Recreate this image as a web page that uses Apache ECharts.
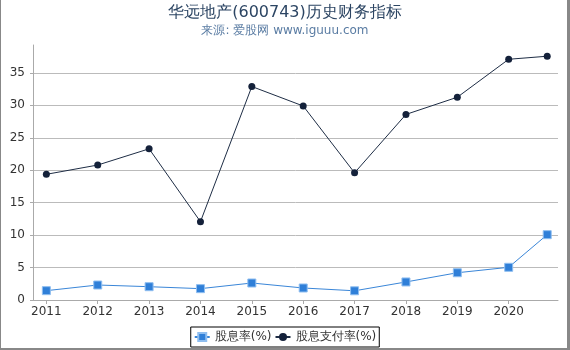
<!DOCTYPE html>
<html>
<head>
<meta charset="utf-8">
<script src="https://cdn.jsdelivr.net/npm/echarts@6/dist/echarts.min.js"></script>
<style>
  html, body { margin: 0; padding: 0; background: #fff; }
  #wrap { position: relative; width: 570px; height: 350px; }
  #main { width: 570px; height: 350px; }
  #frame { position: absolute; left: 0; top: 0; width: 570px; height: 350px; box-sizing: border-box;
           border-left: 1px solid #888; border-right: 3px solid #888; border-bottom: 2px solid #888; pointer-events: none; }
</style>
</head>
<body>
<div id="wrap"><div id="main"></div><div id="frame"></div></div>
<script>
// x positions (years); last point is the latest partial-year figure
var years = [2011, 2012, 2013, 2014, 2015, 2016, 2017, 2018, 2019, 2020, 2020.75];
var yearLabels = [2011, 2012, 2013, 2014, 2015, 2016, 2017, 2018, 2019, 2020];
var yTicks = [0, 5, 10, 15, 20, 25, 30, 35];

var dividendYield = [1.44, 2.31, 2.05, 1.75, 2.62, 1.85, 1.42, 2.78, 4.2, 5.04, 10.07];
var payoutRatio = [19.37, 20.8, 23.3, 12.07, 32.9, 29.9, 19.6, 28.6, 31.25, 37.1, 37.57];

function pairs(xs, ys) {
  return xs.map(function (x, i) { return [x, ys[i]]; });
}

var chart = echarts.init(document.getElementById('main'));
var font = 'DejaVu Sans';

var option = {
  backgroundColor: '#fff',
  textStyle: { fontFamily: font },
  title: {
    text: '华远地产(600743)历史财务指标',
    subtext: '来源: 爱股网 www.iguuu.com',
    left: 'center',
    top: 0,
    itemGap: 4,
    textStyle: { fontFamily: font, fontSize: 16, fontWeight: 'normal', color: '#2c4563' },
    subtextStyle: { fontFamily: font, fontSize: 12, color: '#5a7ca3' }
  },
  legend: {
    left: 'center',
    top: 327,
    padding: [4, 3],
    borderColor: '#000',
    borderWidth: 1,
    borderRadius: 0,
    itemGap: 3,
    itemWidth: 15,
    itemHeight: 10,
    textStyle: { fontFamily: font, fontSize: 12, color: '#333' },
    data: ['股息率(%)', '股息支付率(%)']
  },
  grid: { left: 33, right: 12, top: 45, bottom: 50, containLabel: false },
  xAxis: {
    type: 'value',
    min: 2010.74,
    max: 2020.96,
    splitLine: { show: false },
    axisLine: { lineStyle: { color: '#aaa' } },
    axisTick: { show: true, length: 4, customValues: yearLabels, lineStyle: { color: '#aaa' } },
    axisLabel: {
      customValues: yearLabels,
      formatter: function (v) { return String(v); },
      color: '#333', fontSize: 12, margin: 6, fontFamily: font
    }
  },
  yAxis: {
    type: 'value',
    min: 0,
    max: 39.3,
    axisLine: { show: true, lineStyle: { color: '#aaa' } },
    axisTick: { show: true, length: 3, customValues: yTicks, lineStyle: { color: '#aaa' } },
    axisLabel: { customValues: yTicks, color: '#333', fontSize: 12, margin: 8, fontFamily: font },
    splitLine: { show: true, lineStyle: { color: '#bbb' } }
  },
  series: [
    {
      name: '股息率(%)',
      type: 'line',
      data: pairs(years, dividendYield),
      symbol: 'rect',
      symbolSize: 8,
      lineStyle: { color: '#3a86d8', width: 1 },
      itemStyle: { color: '#2f7fd8', borderColor: '#8fbef0', borderWidth: 1 }
    },
    {
      name: '股息支付率(%)',
      type: 'line',
      data: pairs(years, payoutRatio),
      symbol: 'circle',
      symbolSize: 7,
      lineStyle: { color: '#1e2d45', width: 1 },
      itemStyle: { color: '#14213a' }
    }
  ]
};

chart.setOption(option);
</script>
</body>
</html>
